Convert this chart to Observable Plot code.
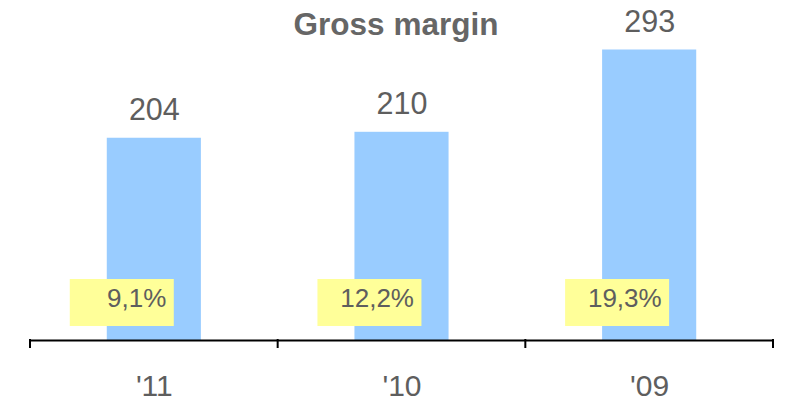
<!DOCTYPE html>
<html>
<head>
<meta charset="utf-8">
<script src="https://cdn.jsdelivr.net/npm/d3@7"></script>
<script src="https://cdn.jsdelivr.net/npm/@observablehq/plot@0.6"></script>
<style>
  body { margin: 0; background: #fff; }
  svg { display: block; }
</style>
</head>
<body>
<div id="chart"></div>
<script>
// Gross margin by year, with margin percentage
const years = ["'11", "'10", "'09"];
const grossMargin = [204, 210, 293];
const marginPct = [9.1, 12.2, 19.3];
const title = "Gross margin";

const rows = years.map((year, i) => ({year, value: grossMargin[i], pct: marginPct[i]}));
const fmtPct = d => d.toFixed(1).replace(".", ",") + "%";

const ink = "#5e5e5e";
const font = "'Liberation Sans', Arial, Helvetica, sans-serif";

// Tick marks at the category boundaries, hanging below the baseline
function boundaryTicks(index, scales, values, dims) {
  const {width, marginLeft, marginRight} = dims;
  const step = (width - marginLeft - marginRight) / years.length;
  const y0 = scales.y(0);
  const g = d3.create("svg:g").attr("stroke", "#000").attr("stroke-width", 2);
  for (let i = 0; i <= years.length; i++) {
    const x = marginLeft + i * step;
    g.append("line").attr("x1", x).attr("x2", x).attr("y1", y0 - 1).attr("y2", y0 + 8);
  }
  return g.node();
}

// Yellow badges behind the margin percentages
function badges(index, scales) {
  const y0 = scales.y(0);
  const g = d3.create("svg:g").attr("fill", "#ffff99");
  for (const year of years) {
    const x = scales.x(year);
    g.append("rect")
      .attr("x", x - 37).attr("y", y0 - 61)
      .attr("width", 104).attr("height", 47);
  }
  return g.node();
}

const chart = Plot.plot({
  width: 789,
  height: 401,
  marginTop: 0,
  marginLeft: 30,
  marginRight: 16,
  marginBottom: 61,
  style: {fontFamily: font, background: "#fff", overflow: "visible"},
  x: {domain: years, paddingInner: 0.62, paddingOuter: 0.31, round: false, label: null},
  y: {domain: [0, 293], range: [340, 49.5], axis: null},
  marks: [
    Plot.barY(rows, {x: "year", y: "value", fill: "#99ccff"}),
    badges,
    Plot.text(rows, {
      x: "year", text: d => fmtPct(d.pct), frameAnchor: "bottom",
      textAnchor: "end", dx: 12, dy: -33.5, fontSize: 26, fill: ink
    }),
    Plot.ruleY([0], {stroke: "#000", strokeWidth: 2}),
    boundaryTicks,
    Plot.text(rows, {
      x: "year", y: "value", text: d => String(d.value),
      dy: -27.6, fontSize: 30.5, fill: ink
    }),
    Plot.axisX({tickSize: 0, tickPadding: 33.7, fontSize: 30, fill: ink, label: null}),
    Plot.text([title], {
      frameAnchor: "top", lineAnchor: "top", dx: -6, dy: 12,
      fontSize: 31.5, fontWeight: "bold", fill: "#666"
    })
  ]
});

document.getElementById("chart").append(chart);
</script>
</body>
</html>
